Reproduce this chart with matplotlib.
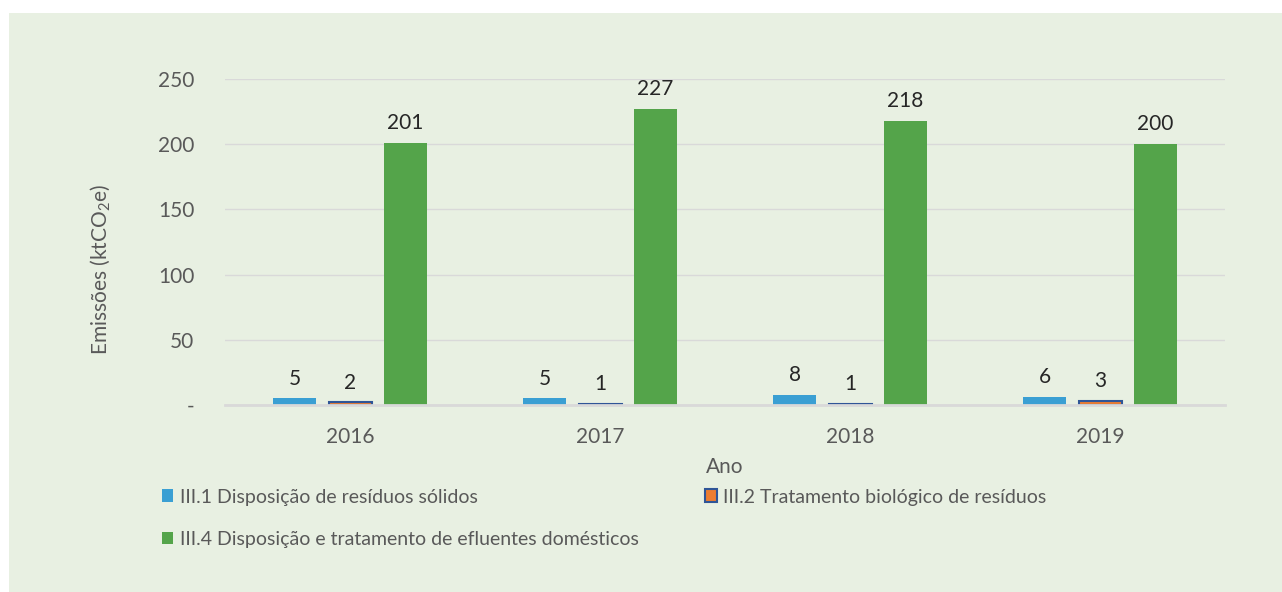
import numpy as np
import matplotlib.pyplot as plt
from matplotlib.patches import Rectangle, Patch

plt.rcParams['font.family'] = ['Lato', 'DejaVu Sans']
plt.rcParams['mathtext.fontset'] = 'custom'
plt.rcParams['mathtext.rm'] = 'Lato'
plt.rcParams['mathtext.it'] = 'Lato'
plt.rcParams['mathtext.bf'] = 'Lato'

anos = ['2016', '2017', '2018', '2019']
residuos_solidos = [5, 5, 8, 6]
tratamento_biologico = [2, 1, 1, 3]
efluentes_domesticos = [201, 227, 218, 200]
nomes = ['III.1 Disposição de resíduos sólidos',
         'III.2 Tratamento biológico de resíduos',
         'III.4 Disposição e tratamento de efluentes domésticos']

bg = '#E8F0E2'
azul = '#3A9FD3'
laranja = '#ED7D31'
azul_escuro = '#2F5597'
verde = '#54A44A'
cinza = '#595959'

fig = plt.figure(figsize=(12.82, 5.92), dpi=100)
fig.patch.set_facecolor('white')
fig.patches.append(Rectangle((9/1282, 0), 1, 1 - 13/592, transform=fig.transFigure,
                             facecolor=bg, edgecolor='none', zorder=-10))

ax = fig.add_axes([225/1282, 1 - 405/592, 1000/1282, 326/592])
ax.set_facecolor(bg)
ax.patch.set_alpha(0)

x = np.arange(len(anos))
w = 0.172
d = 0.222
b1 = ax.bar(x - d, residuos_solidos, w, color=azul, zorder=3)
b2 = ax.bar(x, tratamento_biologico, w, color=laranja, edgecolor=azul_escuro, linewidth=1.5, zorder=3)
b3 = ax.bar(x + d, efluentes_domesticos, w, color=verde, zorder=3)

for bars, vals in [(b1, residuos_solidos), (b2, tratamento_biologico), (b3, efluentes_domesticos)]:
    for r, v in zip(bars, vals):
        ax.annotate(str(v), (r.get_x() + r.get_width() / 2, r.get_height()),
                    xytext=(0, 7), textcoords='offset points', ha='center', va='bottom',
                    fontsize=15, color='#262626')

ax.set_xlim(-0.5, 3.5)
ax.set_ylim(0, 250)
ax.set_yticks([0, 50, 100, 150, 200, 250])
ax.set_yticklabels(['-', '50', '100', '150', '200', '250'])
ax.set_xticks(x)
ax.set_xticklabels(anos)
ax.tick_params(length=0, labelsize=15, labelcolor=cinza)
ax.tick_params(axis='y', pad=22)
ax.tick_params(axis='x', pad=16)
ax.grid(axis='y', color='#D9D9D9', linewidth=1, zorder=0)
for s in ['top', 'right', 'left']:
    ax.spines[s].set_visible(False)
ax.spines['bottom'].set_color('#D9D9D9')
ax.spines['bottom'].set_linewidth(2)
ax.spines['bottom'].set_zorder(4)

ax.set_xlabel('Ano', fontsize=15, color=cinza, labelpad=7)
fig.text(100/1282, 1 - 270/592, 'Emissões (ktCO$_2$e)', rotation=90, fontsize=15,
         color=cinza, ha='center', va='center')

handles = [Patch(facecolor=azul, edgecolor='none'),
           Patch(facecolor=verde, edgecolor='none'),
           Patch(facecolor=laranja, edgecolor=azul_escuro, linewidth=1.5)]
labels = [nomes[0], nomes[2], nomes[1]]
fig.legend(handles, labels, ncol=2, loc='upper left', bbox_to_anchor=(144/1282, 1 - 471/592),
           frameon=False, fontsize=14, labelcolor=cinza, handlelength=0.6, handleheight=0.6,
           handletextpad=0.35, columnspacing=3.4, labelspacing=1.3)

fig.savefig('out.png', dpi=100, facecolor=fig.get_facecolor())
